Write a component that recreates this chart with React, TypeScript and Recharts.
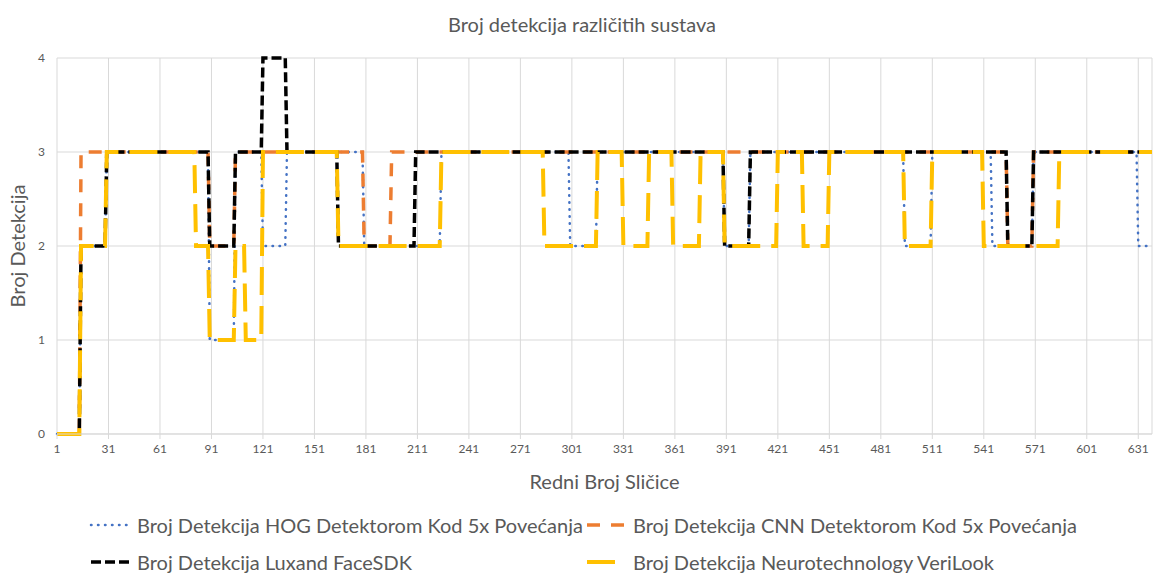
import { LineChart, Line, XAxis, YAxis, CartesianGrid, Label } from "recharts";

const frameCount = 639;
const xTicks = [1, 31, 61, 91, 121, 151, 181, 211, 241, 271, 301, 331, 361, 391, 421, 451, 481, 511, 541, 571, 601, 631];
const yTicks = [0, 1, 2, 3, 4];

// [first frame, value] - value holds until the next entry
const hogSteps: [number, number][] = [
  [1, 0], [15, 2], [30, 3], [90, 1], [105, 3], [121, 2], [135, 3], [180, 2], [225, 3],
  [300, 2], [316, 3], [390, 2], [405, 3], [495, 2], [511, 3], [546, 2], [570, 3], [631, 2],
];
const cnnSteps: [number, number][] = [
  [1, 0], [15, 3], [90, 2], [105, 3], [180, 2], [196, 3], [555, 2], [570, 3],
];
const luxandSteps: [number, number][] = [
  [1, 0], [15, 2], [30, 3], [90, 2], [105, 3], [121, 4], [135, 3], [165, 2], [210, 3],
  [390, 2], [405, 3], [555, 2], [570, 3],
];
const veriLookSteps: [number, number][] = [
  [1, 0], [15, 2], [30, 3], [82, 2], [90, 1], [105, 2], [111, 1], [121, 3], [165, 2],
  [225, 3], [285, 2], [316, 3], [331, 2], [346, 3], [360, 2], [376, 3], [390, 2], [421, 3],
  [436, 2], [451, 3], [495, 2], [511, 3], [541, 2], [585, 3],
];

const seriesNames = [
  "Broj Detekcija HOG Detektorom Kod 5x Povećanja",
  "Broj Detekcija CNN Detektorom Kod 5x Povećanja",
  "Broj Detekcija Luxand FaceSDK",
  "Broj Detekcija Neurotechnology VeriLook",
];

const valueAt = (steps: [number, number][], frame: number) => {
  let v = steps[0][1];
  for (const [start, val] of steps) {
    if (frame >= start) v = val;
  }
  return v;
};

const data = Array.from({ length: frameCount }, (_, i) => {
  const frame = i + 1;
  return {
    frame,
    hog: valueAt(hogSteps, frame),
    cnn: valueAt(cnnSteps, frame),
    luxand: valueAt(luxandSteps, frame),
    veriLook: valueAt(veriLookSteps, frame),
  };
});

const FONT = "Lato, 'Open Sans', sans-serif";
const TEXT = "#595959";
const GRID = "#d9d9d9";

const styles = [
  { key: "hog", color: "#4472C4", width: 2.5, dash: "0.5 6.5", cap: "round" as const },
  { key: "cnn", color: "#ED7D31", width: 3.5, dash: "13 11", cap: "butt" as const },
  { key: "luxand", color: "#000000", width: 3.5, dash: "10 4", cap: "butt" as const },
  { key: "veriLook", color: "#FFC000", width: 4, dash: "28 11", cap: "butt" as const },
];

function LegendItem({ idx, left, top }: { idx: number; left: number; top: number }) {
  const s = styles[idx];
  return (
    <div style={{ position: "absolute", left, top, display: "flex", alignItems: "center", height: 24 }}>
      <svg width={42} height={10} style={{ marginRight: 6 }}>
        <line x1={2} y1={5} x2={41} y2={5} stroke={s.color} strokeWidth={s.width}
          strokeDasharray={s.dash} strokeLinecap={s.cap} />
      </svg>
      <span style={{ fontSize: 20, lineHeight: "24px", color: TEXT, whiteSpace: "nowrap" }}>{seriesNames[idx]}</span>
    </div>
  );
}

export default function App() {
  return (
    <div style={{ position: "absolute", left: 0, top: 0, width: 1154, height: 575, background: "#fff", fontFamily: FONT, overflow: "hidden" }}>
      <div style={{ position: "absolute", top: 12, left: 5, width: 1154, textAlign: "center", fontSize: 20, color: TEXT }}>
        Broj detekcija različitih sustava
      </div>
      <LineChart width={1154} height={575} data={data} margin={{ top: 58, right: 2, left: 8, bottom: 81 }}>
        <CartesianGrid stroke={GRID} strokeWidth={1} />
        <XAxis
          type="number"
          dataKey="frame"
          domain={[1, frameCount]}
          ticks={xTicks}
          interval={0}
          height={60}
          stroke={GRID}
          tickSize={5}
          tickMargin={5}
          tick={{ fill: TEXT, fontSize: 12, fontFamily: FONT }}
        >
          <Label value="Redni Broj Sličice" position="insideBottom" offset={5}
            style={{ fill: TEXT, fontSize: 20, fontFamily: FONT }} />
        </XAxis>
        <YAxis
          domain={[0, 4]}
          ticks={yTicks}
          width={49}
          axisLine={false}
          tickLine={false}
          tickSize={0}
          tickMargin={12}
          tick={{ fill: TEXT, fontSize: 12, fontFamily: FONT }}
        >
          <Label value="Broj Detekcija" position="insideLeft" angle={-90} offset={10}
            style={{ fill: TEXT, fontSize: 20, fontFamily: FONT, textAnchor: "middle" }} />
        </YAxis>
        {styles.map((s) => (
          <Line
            key={s.key}
            type="linear"
            dataKey={s.key}
            stroke={s.color}
            strokeWidth={s.width}
            strokeDasharray={s.dash}
            strokeLinecap={s.cap}
            dot={false}
            activeDot={false}
            isAnimationActive={false}
          />
        ))}
      </LineChart>
      <LegendItem idx={0} left={89} top={513} />
      <LegendItem idx={1} left={585} top={513} />
      <LegendItem idx={2} left={89} top={550} />
      <LegendItem idx={3} left={585} top={550} />
    </div>
  );
}
